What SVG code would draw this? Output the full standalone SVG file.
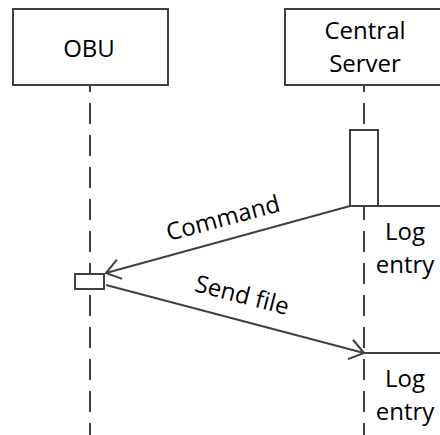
<svg xmlns="http://www.w3.org/2000/svg" width="440" height="435" viewBox="0 0 440 435">
  <style>
    .box { fill: #ffffff; stroke: #404040; stroke-width: 2; }
    .life { stroke: #404040; stroke-width: 2; stroke-dasharray: 21 11; stroke-dashoffset: 14; fill: none; }
    .msg { stroke: #404040; stroke-width: 2; fill: none; }
    .txt { font-family: "Open Sans", "Liberation Sans", sans-serif; font-size: 24px; fill: #000000; text-anchor: middle; }
  </style>
  <defs>
    <!-- open (unfilled) arrowhead for messages -->
    <marker id="open-arrow" viewBox="-16 -12 18 24" refX="0" refY="0" markerWidth="18" markerHeight="24" markerUnits="userSpaceOnUse" orient="auto">
      <path d="M-14,-10 L0,0 L-14,10" fill="none" stroke="#404040" stroke-width="2"/>
    </marker>
  </defs>

  <!-- lifelines first, so boxes cover them -->
  <g id="lifelines">
    <line class="life" x1="90" y1="85" x2="90" y2="435"/>
    <line class="life" x1="364" y1="85" x2="364" y2="435"/>
  </g>

  <g id="obu">
    <rect class="box" x="13" y="9" width="155" height="76"/>
    <text class="txt" x="89" y="57">OBU</text>
  </g>
  <g id="central-server">
    <rect class="box" x="285" y="9" width="160" height="76"/>
    <text class="txt" x="365" y="39">Central</text>
    <text class="txt" x="365" y="72">Server</text>
  </g>

  <g id="activations">
    <rect class="box" x="350" y="130" width="28" height="76"/>
    <rect class="box" x="75" y="274" width="29" height="15"/>
  </g>

  <g id="connectors">
    <line class="msg" x1="350" y1="206" x2="106" y2="273" marker-end="url(#open-arrow)"/>
    <line class="msg" x1="350" y1="206" x2="440" y2="206"/>
    <line class="msg" x1="106" y1="285" x2="364" y2="353" marker-end="url(#open-arrow)"/>
    <line class="msg" x1="364" y1="353" x2="440" y2="353"/>
  </g>

  <g id="labels">
    <text class="txt" transform="translate(225,226) rotate(-15)">Command</text>
    <text class="txt" transform="translate(240,303) rotate(14.5)">Send file</text>
    <text class="txt" x="405" y="240">Log</text>
    <text class="txt" x="405" y="273">entry</text>
    <text class="txt" x="405" y="387">Log</text>
    <text class="txt" x="405" y="420">entry</text>
  </g>
</svg>
